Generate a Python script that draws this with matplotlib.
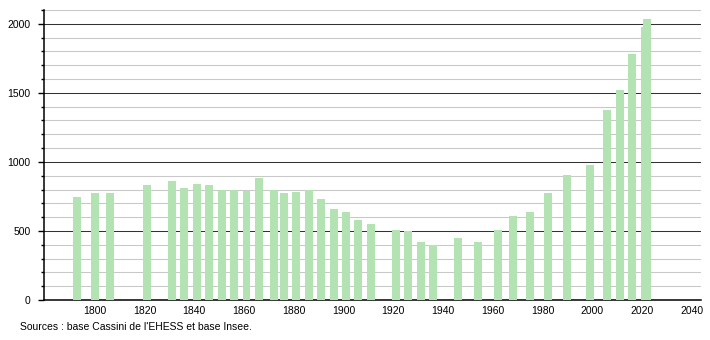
import numpy as np
import matplotlib.pyplot as plt
from matplotlib.ticker import MultipleLocator


# Census years and population values.
years = [1793, 1800, 1806, 1821, 1831, 1836, 1841, 1846, 1851, 1856, 1861, 1866,
         1872, 1876, 1881, 1886, 1891, 1896, 1901, 1906, 1911, 1921, 1926, 1931,
         1936, 1946, 1954, 1962, 1968, 1975, 1982, 1990, 1999, 2006, 2011, 2016,
         2021, 2022]
population = [748, 776, 776, 834, 862, 812, 841, 834, 795, 795, 792, 886,
              797, 778, 785, 795, 734, 662, 635, 582, 553, 510, 502, 423,
              399, 450, 421, 507, 609, 638, 775, 906, 978, 1377, 1521, 1782,
              1978, 2036]
sourceText = "Sources : base Cassini de l'EHESS et base Insee."

barColour = "#b3e3b3"

plt.rcParams['font.family'] = ['Liberation Sans', 'DejaVu Sans']

fig = plt.figure(figsize=(7.1, 3.4), dpi=100)
ax = fig.add_axes([0.062, 0.1176, 0.925, 0.853])

ax.bar(years, population, width=3.2, color=barColour, zorder=3)

ax.set_xlim(1779.6, 2043.6)
ax.set_ylim(0, 2100)

# Grid lines: dark every 500, light every 100.
ax.yaxis.set_major_locator(MultipleLocator(500))
ax.yaxis.set_minor_locator(MultipleLocator(100))
ax.xaxis.set_major_locator(MultipleLocator(20))
ax.grid(axis='y', which='minor', color='#c8c8c8', linewidth=0.75, zorder=1)
ax.grid(axis='y', which='major', color='#333333', linewidth=0.75, zorder=2)

for side in ['top', 'right']:
    ax.spines[side].set_visible(False)
ax.spines['left'].set_linewidth(1.1)
ax.spines['bottom'].set_linewidth(1.1)

ax.tick_params(axis='y', which='major', length=4, width=1, pad=5.5, labelsize=7.5)
ax.tick_params(axis='y', which='minor', length=2, width=1)
ax.tick_params(axis='x', which='major', length=0, pad=4, labelsize=7.5)

xTicks = ax.get_xticks()
ax.set_xticks([t for t in xTicks if 1790 < t < 2050])

fig.text(20 / 710, 1 - 327 / 340, sourceText, fontsize=7.5, va='center', ha='left')

plt.savefig("out.png", dpi=100)
